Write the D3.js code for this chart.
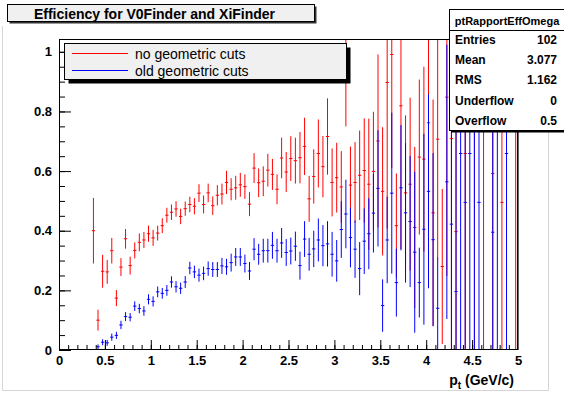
<!DOCTYPE html>
<html>
<head>
<meta charset="utf-8">
<script src="https://cdn.jsdelivr.net/npm/d3@7"></script>
<style>
body { margin: 0; background: #fff; }
svg { display: block; font-family: "Liberation Sans", Arial, Helvetica, sans-serif; }
</style>
</head>
<body>
<div id="chart"></div>
<script>
//// Data: 100 bins of 0.05 GeV/c from 0 to 5, efficiency and its error per bin

const bin_low = 0
const bin_width = 0.05

const red_values = [
    0, 0, 0, 0, 0, 0, 0, 0.400, 0.100, 0.264,
    0.262, 0.333, 0.174, 0.278, 0.373, 0.283, 0.334, 0.361, 0.369, 0.390,
    0.376, 0.392, 0.417, 0.452, 0.462, 0.473, 0.448, 0.474, 0.488, 0.482,
    0.526, 0.488, 0.527, 0.484, 0.519, 0.523, 0.562, 0.539, 0.544, 0.554,
    0.548, 0.489, 0.610, 0.561, 0.566, 0.603, 0.589, 0.539, 0.644, 0.597,
    0.642, 0.635, 0.645, 0.683, 0.507, 0.582, 0.659, 0.615, 0.716, 0.562,
    0.578, 0.547, 1.100, 0.553, 0.562, 0.586, 0.602, 0.556, 0.599, 0.701,
    0.532, 0.897, 0.991, 0.417, 0.819, 0.527, 0.556, 0.411, 0.647, 0.640,
    0.762, 0.460, 0.707, 0.280, 0.848, 0.709, 0.397, 0, 0.659, 0,
    1.000, 0, 1.000, 0, 0.592, 0, 0.495, 0, 0, 1.000
]
const red_errors = [
    0, 0, 0, 0, 0, 0, 0, 0.110, 0.035, 0.055,
    0.040, 0.043, 0.027, 0.030, 0.033, 0.030, 0.027, 0.030, 0.027, 0.027,
    0.027, 0.025, 0.025, 0.025, 0.026, 0.026, 0.026, 0.024, 0.026, 0.027,
    0.030, 0.030, 0.031, 0.031, 0.034, 0.035, 0.039, 0.037, 0.040, 0.040,
    0.041, 0.040, 0.050, 0.048, 0.050, 0.055, 0.052, 0.050, 0.068, 0.067,
    0.075, 0.077, 0.086, 0.096, 0.077, 0.091, 0.114, 0.103, 0.128, 0.114,
    0.117, 0.120, 0.350, 0.129, 0.135, 0.150, 0.175, 0.220, 0.200, 0.290,
    0.215, 0.490, 0.380, 0.175, 0.480, 0.260, 0.290, 0.270, 0.260, 0.310,
    0.400, 0.380, 0.400, 0.260, 0.600, 0.720, 0.650, 0, 0.700, 0,
    1.000, 0, 1.000, 0, 0.600, 0, 0.550, 0, 0, 1.000
]

const blue_values = [
    0, 0, 0, 0, 0, 0, 0, 0, 0.011, 0.026,
    0.024, 0.043, 0.049, 0.084, 0.112, 0.110, 0.147, 0.139, 0.131, 0.170,
    0.163, 0.195, 0.190, 0.200, 0.228, 0.212, 0.207, 0.228, 0.275, 0.262,
    0.251, 0.257, 0.273, 0.270, 0.270, 0.282, 0.279, 0.293, 0.312, 0.312,
    0.290, 0.265, 0.338, 0.321, 0.333, 0.333, 0.351, 0.333, 0.359, 0.327,
    0.332, 0.348, 0.283, 0.372, 0.321, 0.339, 0.369, 0.350, 0.356, 0.321,
    0.299, 0.404, 0.456, 0.377, 0.338, 0.273, 0.365, 0.390, 0.459, 0.542,
    0.149, 0.369, 0.526, 0.226, 0.544, 0.460, 0.431, 0.328, 0.226, 0.405,
    0.532, 0.370, 0.140, 0, 0.564, 0.422, 0.196, 0.659, 0.495, 0.659,
    1.000, 0.495, 0, 0, 0.395, 1.000, 0, 0.659, 0, 0
]
const blue_errors = [
    0, 0, 0, 0, 0, 0, 0, 0, 0.008, 0.010,
    0.010, 0.012, 0.012, 0.014, 0.015, 0.014, 0.016, 0.016, 0.016, 0.017,
    0.017, 0.018, 0.018, 0.018, 0.019, 0.019, 0.019, 0.020, 0.021, 0.021,
    0.022, 0.023, 0.024, 0.025, 0.025, 0.027, 0.027, 0.030, 0.030, 0.030,
    0.030, 0.030, 0.037, 0.035, 0.040, 0.040, 0.045, 0.040, 0.050, 0.045,
    0.045, 0.049, 0.047, 0.060, 0.055, 0.061, 0.072, 0.069, 0.076, 0.075,
    0.070, 0.095, 0.115, 0.100, 0.096, 0.089, 0.110, 0.119, 0.132, 0.195,
    0.088, 0.145, 0.270, 0.114, 0.210, 0.234, 0.220, 0.270, 0.117, 0.320,
    0.325, 0.290, 0.170, 0, 0.460, 0.620, 0.850, 0.700, 0.600, 0.700,
    1.000, 0.600, 0, 0, 0.650, 1.000, 0, 0.700, 0, 0
]

const x_major_ticks = [0, 0.5, 1, 1.5, 2, 2.5, 3, 3.5, 4, 4.5, 5]
const x_tick_labels = ["0", "0.5", "1", "1.5", "2", "2.5", "3", "3.5", "4", "4.5", "5"]
const y_major_ticks = [0, 0.2, 0.4, 0.6, 0.8, 1]
const y_tick_labels = ["0", "0.2", "0.4", "0.6", "0.8", "1"]

const legend_labels = ["no geometric cuts", "old geometric cuts"]
const series_colors = ["#ff0000", "#0000ff"]

const stats_title = "ptRapportEffOmega"
const stats_names = ["Entries", "Mean", "RMS", "Underflow", "Overflow"]
const stats_values = ["102", "3.077", "1.162", "0", "0.5"]

const chart_title = "Efficiency for V0Finder and XiFinder"


//// Canvas and scales
const W = 564, H = 398
const frame = {left: 59, right: 518, top: 39, bottom: 350}

const svg = d3.select("#chart")
    .append("svg")
        .attr("width", W)
        .attr("height", H)

svg.append("rect")
    .attr("width", W)
    .attr("height", H)
    .attr("fill", "#fff")

// light pad border
svg.append("path")
    .attr("d", "M2.5,26V390.5H548.5V131")
    .attr("fill", "none")
    .attr("stroke", "#d6d6d6")

var x = d3.scaleLinear()
    .domain([0, 5])
    .range([frame.left, frame.right])

var y = d3.scaleLinear()
    .domain([0, 1.043])
    .range([frame.bottom, frame.top])

svg.append("rect")
    .attr("x", frame.left)
    .attr("y", frame.top)
    .attr("width", frame.right - frame.left)
    .attr("height", frame.bottom - frame.top)
    .attr("fill", "#fff")

svg.append("clipPath")
    .attr("id", "frame-clip")
    .append("rect")
        .attr("x", frame.left)
        .attr("y", frame.top)
        .attr("width", frame.right - frame.left)
        .attr("height", frame.bottom - frame.top)


//// Error bar histograms
function bins_of(values, errors) {
    return values.map(function(v, i) {
        return {lo: bin_low + i * bin_width, v: v, e: errors[i]}
    })
}

const series = [
    bins_of(red_values, red_errors),
    bins_of(blue_values, blue_errors)
]

const data_group = svg.append("g")
    .attr("clip-path", "url(#frame-clip)")

series.forEach(function(bins, s) {
    var g = data_group.append("g")
        .attr("stroke", series_colors[s])
        .attr("stroke-width", 1)
        .attr("fill", "none")

    // empty bins: flat line on zero across the bin
    g.selectAll(".empty")
        .data(bins.filter(d => d.v === 0 && d.e === 0))
        .enter()
        .append("line")
            .attr("x1", d => x(d.lo))
            .attr("x2", d => x(d.lo + bin_width))
            .attr("y1", y(0) - 0.5)
            .attr("y2", y(0) - 0.5)

    var filled = bins.filter(d => !(d.v === 0 && d.e === 0))

    // vertical error bars
    g.selectAll(".err")
        .data(filled)
        .enter()
        .append("line")
            .attr("x1", d => x(d.lo + bin_width / 2))
            .attr("x2", d => x(d.lo + bin_width / 2))
            .attr("y1", d => y(d.v - d.e))
            .attr("y2", d => y(d.v + d.e))

    // short horizontal mark at the bin content
    g.selectAll(".mark")
        .data(filled)
        .enter()
        .append("line")
            .attr("x1", d => x(d.lo + bin_width / 2 - 0.018))
            .attr("x2", d => x(d.lo + bin_width / 2 + 0.018))
            .attr("y1", d => y(d.v))
            .attr("y2", d => y(d.v))
})


//// Axes with ticks pointing inside
var x_minor = d3.range(0, 51).map(i => i / 10)
var y_minor = d3.range(0, 21).map(i => i / 20)

svg.append("g")
    .attr("transform", "translate(0," + frame.bottom + ")")
    .call(d3.axisBottom(x).tickValues(x_minor).tickSize(-5).tickFormat(""))
    .call(g => g.select(".domain").remove())

svg.append("g")
    .attr("transform", "translate(0," + frame.bottom + ")")
    .call(d3.axisBottom(x).tickValues(x_major_ticks).tickSize(-10).tickSizeOuter(0).tickPadding(6)
        .tickFormat((d, i) => x_tick_labels[i]))
    .call(g => g.select(".domain").remove())

svg.append("g")
    .attr("transform", "translate(" + frame.left + ",0)")
    .call(d3.axisLeft(y).tickValues(y_minor).tickSize(-6).tickFormat(""))
    .call(g => g.select(".domain").remove())

svg.append("g")
    .attr("transform", "translate(" + frame.left + ",0)")
    .call(d3.axisLeft(y).tickValues(y_major_ticks).tickSize(-12).tickSizeOuter(0).tickPadding(7)
        .tickFormat((d, i) => y_tick_labels[i]))
    .call(g => g.select(".domain").remove())

svg.selectAll(".tick line").attr("stroke", "#000")
svg.selectAll(".tick text")
    .attr("fill", "#000")
    .style("font-family", "'Liberation Sans', Arial, sans-serif")
    .style("font-size", "13px")
    .style("font-weight", "bold")

// frame box
svg.append("rect")
    .attr("x", frame.left + 0.5)
    .attr("y", frame.top + 0.5)
    .attr("width", frame.right - frame.left - 1)
    .attr("height", frame.bottom - frame.top - 1)
    .attr("fill", "none")
    .attr("stroke", "#000")

svg.append("line")
    .attr("x1", frame.right + 0.5).attr("x2", frame.right + 0.5)
    .attr("y1", frame.top).attr("y2", frame.bottom)
    .attr("stroke", "#666")

// x axis title, p with subscript t
var x_title = svg.append("text")
    .attr("x", 514)
    .attr("y", 385)
    .attr("text-anchor", "end")
    .style("font-size", "14px")
    .style("font-weight", "bold")
x_title.append("tspan").text("p")
x_title.append("tspan").attr("dy", 4).style("font-size", "10px").text("t")
x_title.append("tspan").attr("dy", -4).text(" (GeV/c)")


//// Title box
svg.append("rect")
    .attr("x", 9.5).attr("y", 6.5)
    .attr("width", 307).attr("height", 17)
    .attr("fill", "#333")
svg.append("rect")
    .attr("x", 7.5).attr("y", 4.5)
    .attr("width", 307).attr("height", 17)
    .attr("fill", "#f0f0f0")
    .attr("stroke", "#000")
svg.append("text")
    .attr("x", 154.5)
    .attr("y", 18.5)
    .attr("text-anchor", "middle")
    .style("font-size", "14px")
    .style("font-weight", "bold")
    .text(chart_title)


//// Legend
const legend = {x: 64.5, y: 43.5, w: 282, h: 36}
svg.append("rect")
    .attr("x", legend.x + 4).attr("y", legend.y + 4)
    .attr("width", legend.w).attr("height", legend.h)
    .attr("fill", "#000")
svg.append("rect")
    .attr("x", legend.x).attr("y", legend.y)
    .attr("width", legend.w).attr("height", legend.h)
    .attr("fill", "#f0f0f0")
    .attr("stroke", "#000")

var legend_rows = svg.append("g")
    .selectAll("g")
    .data(legend_labels)
    .enter()
    .append("g")
        .attr("transform", (d, i) => "translate(0," + (53.5 + i * 17) + ")")

legend_rows.append("line")
    .attr("x1", 72).attr("x2", 128)
    .attr("stroke", (d, i) => series_colors[i])
legend_rows.append("text")
    .attr("x", 135)
    .attr("y", 5)
    .style("font-size", "14px")
    .text(d => d)


//// Statistics box
svg.append("rect")
    .attr("x", 451.5).attr("y", 11.5)
    .attr("width", 130).attr("height", 121)
    .attr("fill", "#000")
svg.append("rect")
    .attr("x", 449.5).attr("y", 9.5)
    .attr("width", 130).attr("height", 121)
    .attr("fill", "#fff")
    .attr("stroke", "#000")
svg.append("line")
    .attr("x1", 449.5).attr("x2", 564)
    .attr("y1", 30.5).attr("y2", 30.5)
    .attr("stroke", "#000")
svg.append("text")
    .attr("x", 507)
    .attr("y", 24.5)
    .attr("text-anchor", "middle")
    .style("font-size", "11px")
    .style("font-weight", "bold")
    .text(stats_title)

var stat_rows = svg.append("g")
    .selectAll("g")
    .data(stats_names)
    .enter()
    .append("g")
        .attr("transform", (d, i) => "translate(0," + (43.5 + i * 20.4) + ")")
        .style("font-size", "12px")
        .style("font-weight", "bold")
stat_rows.append("text")
    .attr("x", 455)
    .text(d => d)
stat_rows.append("text")
    .attr("x", 557)
    .attr("text-anchor", "end")
    .text((d, i) => stats_values[i])
</script>
</body>
</html>
